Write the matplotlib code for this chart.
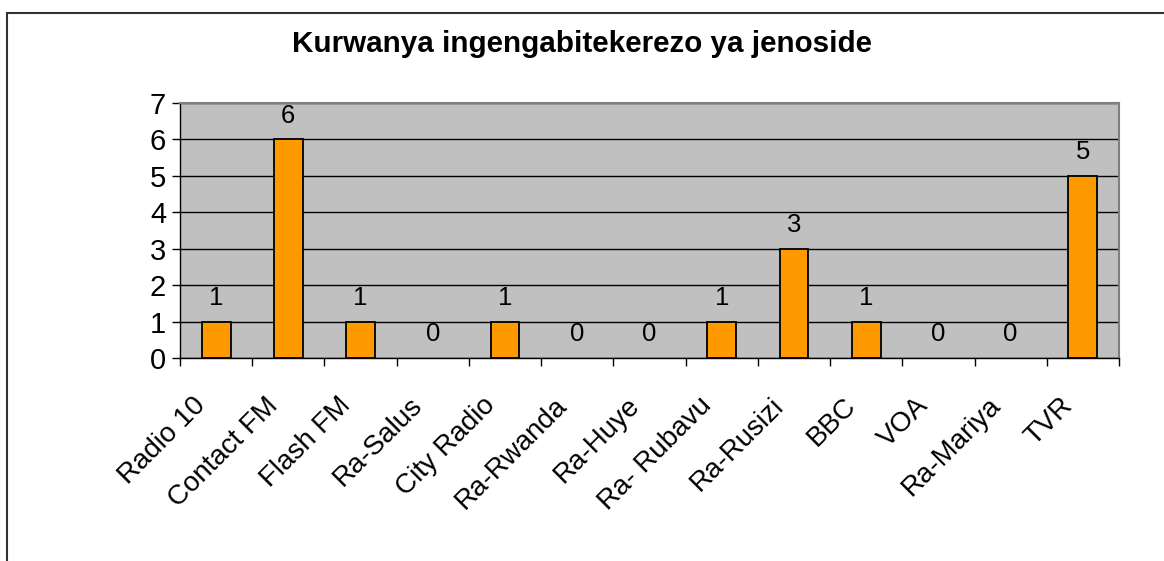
import numpy as np
import matplotlib
matplotlib.use("Agg")
import matplotlib.pyplot as plt
from matplotlib.patches import Rectangle
from matplotlib.transforms import ScaledTranslation

plt.rcParams['font.family'] = ['Liberation Sans', 'DejaVu Sans']

title = "Kurwanya ingengabitekerezo ya jenoside"
stations = ["Radio 10", "Contact FM", "Flash FM", "Ra-Salus", "City Radio",
            "Ra-Rwanda", "Ra-Huye", "Ra- Rubavu", "Ra-Rusizi", "BBC", "VOA",
            "Ra-Mariya", "TVR"]
counts = [1, 6, 1, 0, 1, 0, 0, 1, 3, 1, 0, 0, 5]
y_ticks = [0, 1, 2, 3, 4, 5, 6, 7]

fig = plt.figure(figsize=(11.64, 5.61), dpi=100)
ax = fig.add_axes([180 / 1164, 1 - 358 / 561, (1119 - 180) / 1164, (358 - 103) / 561])

# outer chart border (cut off on right and bottom)
fig.patches.append(Rectangle((7 / 1164, -0.1), 1.2, 1 - 13 / 561 + 0.1,
                             transform=fig.transFigure, fill=False,
                             edgecolor='#333333', linewidth=1.5))

x = np.arange(len(stations))
ax.set_facecolor('#C0C0C0')
nonzero = [i for i, v in enumerate(counts) if v > 0]
ax.bar(x[nonzero], [counts[i] for i in nonzero], width=0.4, color='#FF9900',
       edgecolor='black', linewidth=1.3, zorder=3)

for xi, v in zip(x, counts):
    ax.annotate(str(v), (xi, v), xytext=(0, 12), textcoords='offset points',
                ha='center', va='baseline', fontsize=18.5, zorder=4)

ax.set_xlim(-0.5, len(stations) - 0.5)
ax.set_ylim(0, 7)
ax.set_yticks(y_ticks)
ax.yaxis.grid(True, color='black', linewidth=1, zorder=1)
ax.set_axisbelow(True)

ax.set_xticks(x)
ax.set_xticklabels(stations, rotation=45, ha='right', rotation_mode='anchor',
                   va='center', fontsize=20)
ax.set_xticks(np.arange(-0.5, len(stations), 1), minor=True)
ax.tick_params(axis='x', which='major', length=0, pad=22)
ax.tick_params(axis='x', which='minor', length=6, width=1, color='black',
               direction='out')
ax.tick_params(axis='y', length=6, width=1, direction='out', labelsize=21,
               pad=4)

shift = ScaledTranslation(-14 / 100, -13 / 100, fig.dpi_scale_trans)
for lbl in ax.get_xticklabels():
    lbl.set_transform(lbl.get_transform() + shift)

for s in ['top', 'right']:
    ax.spines[s].set_color('#808080')
    ax.spines[s].set_linewidth(1.5)
for s in ['left', 'bottom']:
    ax.spines[s].set_color('black')
    ax.spines[s].set_linewidth(1)

fig.text(0.5, 1 - 52 / 561, title, ha='center', va='baseline',
         fontsize=21.3, fontweight='bold')

fig.savefig("out.png", dpi=100)
